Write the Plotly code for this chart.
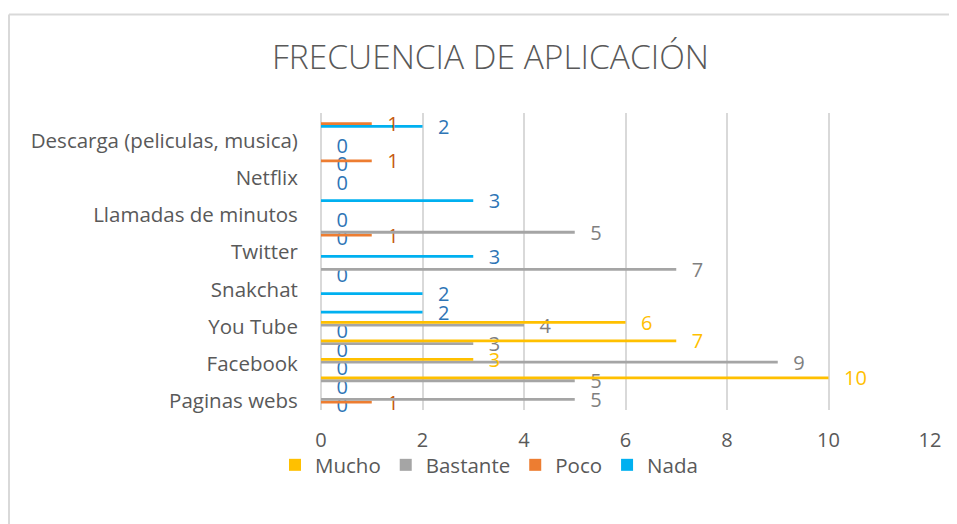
import plotly.graph_objects as go

# 16 data rows (bottom to top); Excel only labels every other row
row_labels = ["Paginas webs", "", "Facebook", "", "You Tube", "", "Snakchat", "",
              "Twitter", "", "Llamadas de minutos", "", "Netflix", "",
              "Descarga (peliculas, musica)", ""]
mucho = [None, 10, 3, 7, 6, None, None, None, None, None, None, None, None, None, None, None]
bastante = [5, 5, 9, 3, 4, None, None, 7, None, 5, None, None, None, None, None, None]
poco = [1, None, None, None, None, None, None, None, None, 1, None, None, None, 1, None, 1]
nada = [0, 0, 0, 0, 0, 2, 2, 0, 3, 0, 0, 3, 0, 0, 0, 2]
x_ticks = [0, 2, 4, 6, 8, 10, 12]

positions = list(range(len(row_labels)))
FONT = "Open Sans"
GRAY_TXT = "#595959"

series = [
    ("Mucho", mucho, "#FFC000", "#FFC000"),
    ("Bastante", bastante, "#A5A5A5", "#7F7F7F"),
    ("Poco", poco, "#ED7D31", "#C55A11"),
    ("Nada", nada, "#00B0F0", "#2E75B6"),
]

fig = go.Figure()
for name, vals, col, tcol in reversed(series):
    fig.add_trace(go.Bar(
        name=name, y=positions, x=vals, orientation="h",
        marker=dict(color=col, line=dict(width=0)),
        text=vals, texttemplate="   %{x}", textposition="outside",
        constraintext="none", cliponaxis=False,
        textfont=dict(family=FONT, size=20, color=tcol),
        hoverinfo="skip",
    ))

W, H = 957, 524
OFF = 8  # page body margin offset
L, R = 321 - OFF, W - (930 - OFF)
T, B = 112.6 - OFF, H - (409.6 - OFF)
pw, ph = W - L - R, H - T - B

def px_x(p):
    return (p - L) / pw

def px_y(p):
    return (H - B - p) / ph

fig.update_layout(
    width=W, height=H,
    margin=dict(l=L, r=R, t=T, b=B, pad=0, autoexpand=False),
    paper_bgcolor="white", plot_bgcolor="white",
    barmode="group", bargap=0.4, bargroupgap=0,
    font=dict(family=FONT, color=GRAY_TXT, size=20),
    title=dict(text="FRECUENCIA DE APLICACIÓN", xref="container", x=(490.5 - OFF) / W,
               y=1 - (57 - OFF) / H, yanchor="middle", xanchor="center",
               font=dict(family=FONT, size=33.5, color=GRAY_TXT, weight=300)),
    legend=dict(orientation="h", traceorder="reversed", xref="container", yref="container",
                x=(489 - OFF) / W, xanchor="center", y=1 - (465 - OFF) / H, yanchor="middle",
                font=dict(family=FONT, size=20.5, color=GRAY_TXT),
                bgcolor="rgba(0,0,0,0)", itemwidth=30),
    showlegend=True,
    xaxis=dict(range=[0, 12], tickvals=x_ticks, showgrid=True, gridcolor="#D9D9D9",
               gridwidth=1.5, zeroline=True, zerolinecolor="#D9D9D9", zerolinewidth=1.5,
               showline=False, ticks="outside", ticklen=12, tickcolor="rgba(0,0,0,0)",
               tickfont=dict(family=FONT, size=20, color=GRAY_TXT), fixedrange=True),
    yaxis=dict(range=[-0.5, len(row_labels) - 0.5],
               tickvals=[p for p, t in zip(positions, row_labels) if t],
               ticktext=[t for t in row_labels if t],
               showgrid=False, zeroline=False, showline=False,
               ticks="outside", ticklen=18, tickcolor="rgba(0,0,0,0)",
               tickfont=dict(family=FONT, size=20.5, color=GRAY_TXT), fixedrange=True),
    shapes=[
        dict(type="line", xref="paper", yref="paper", x0=px_x(1), x1=px_x(W + 5),
             y0=px_y(14 - OFF), y1=px_y(14 - OFF), line=dict(color="#D9D9D9", width=2)),
        dict(type="line", xref="paper", yref="paper", x0=px_x(1), x1=px_x(1),
             y0=px_y(14 - OFF), y1=px_y(H + 5), line=dict(color="#D9D9D9", width=2)),
    ],
)

fig.write_html("out.html")
